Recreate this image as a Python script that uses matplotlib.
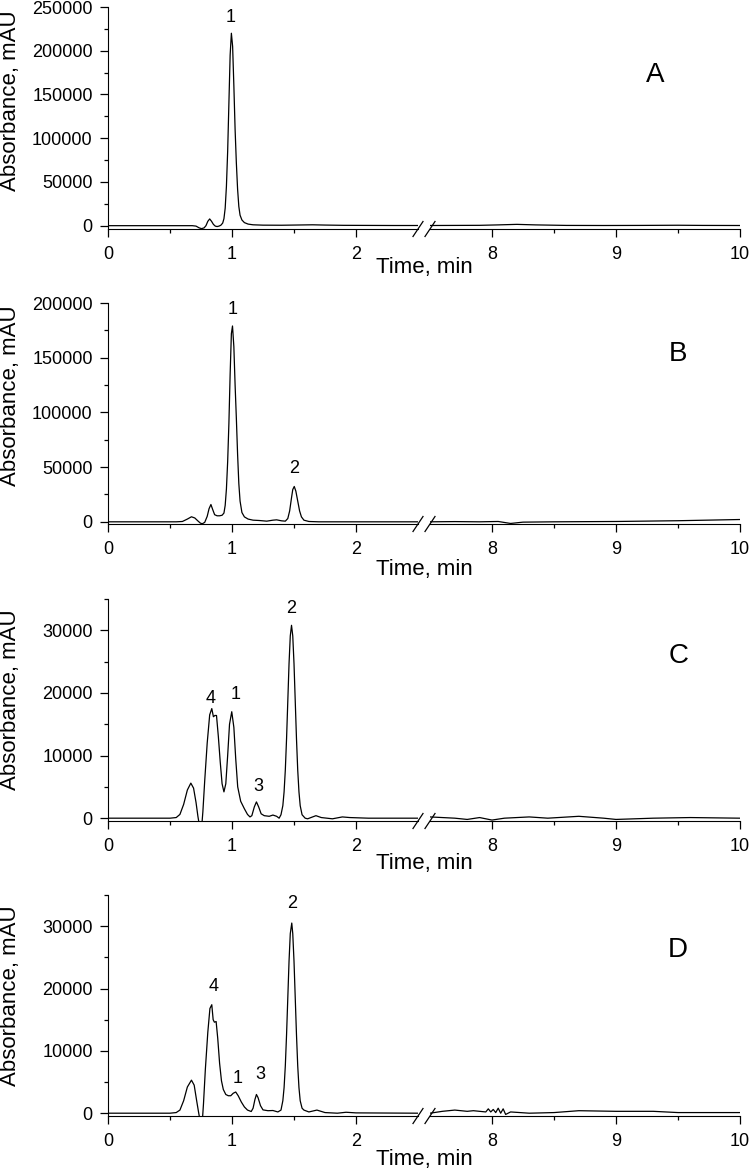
import matplotlib
matplotlib.use('Agg')
import matplotlib.pyplot as plt
from matplotlib.ticker import MultipleLocator, FixedLocator

plt.rcParams['font.family'] = ['Liberation Sans', 'DejaVu Sans']

# ---- data (time in min, absorbance in mAU) ----
a_t = [0.0, 0.6, 0.68, 0.71, 0.735, 0.755, 0.775, 0.79, 0.805, 0.82, 0.835, 0.85, 0.865,
       0.88, 0.895, 0.91, 0.925, 0.935, 0.945, 0.955, 0.965, 0.975, 0.985, 0.995, 1.005,
       1.015, 1.025, 1.035, 1.045, 1.055, 1.065, 1.08, 1.1, 1.13, 1.17, 1.25, 1.4, 1.55,
       1.65, 1.75, 1.9, 2.1, 2.3, 2.5]
a_y = [0, 0, 0, -500, -2500, -3400, -2500, 0, 5000, 7700, 5000, 1500, -500,
       -1000, -500, 500, 3000, 8000, 20000, 45000, 85000, 140000, 195000, 220000, 205000,
       160000, 110000, 72000, 42000, 22000, 12000, 6500, 3500, 1800, 1000, 600, 500, 800,
       1000, 700, 400, 300, 200, 200]
a_t2 = [7.5, 7.7, 7.9, 8.05, 8.2, 8.35, 8.6, 8.9, 9.2, 9.5, 9.7, 10.0]
a_y2 = [200, 300, 400, 900, 1500, 900, 300, 200, 300, 500, 300, 200]

b_t = [0.0, 0.55, 0.6, 0.64, 0.673, 0.7, 0.725, 0.745, 0.76, 0.78, 0.8, 0.815, 0.83,
       0.845, 0.86, 0.88, 0.9, 0.92, 0.935, 0.945, 0.955, 0.965, 0.975, 0.985, 0.995,
       1.004, 1.015, 1.025, 1.035, 1.045, 1.055, 1.065, 1.08, 1.1, 1.13, 1.17, 1.22, 1.28,
       1.33, 1.36, 1.4, 1.43, 1.45, 1.465, 1.48, 1.49, 1.502, 1.515, 1.53, 1.545, 1.56,
       1.58, 1.62, 1.7, 2.0, 2.5]
b_y = [0, 0, 300, 2500, 4600, 3500, 800, -1200, -1800, -500, 5000, 12000, 15800,
       11000, 6500, 5500, 5500, 6000, 8000, 15000, 30000, 55000, 90000, 135000, 172000,
       179000, 160000, 125000, 95000, 62000, 35000, 19000, 8500, 4500, 2500, 1500, 1200, 600,
       1500, 1800, 900, 600, 3000, 10000, 22000, 29500, 32300, 28000, 19000, 10000, 4500,
       1500, 300, 0, 0, 0]
b_t2 = [7.5, 7.7, 7.9, 8.05, 8.15, 8.25, 8.5, 9.0, 9.5, 10.0]
b_y2 = [0, 200, 0, 300, -1500, -300, 0, 300, 1000, 2100]

c_t = [0.0, 0.5, 0.55, 0.58, 0.61, 0.64, 0.668, 0.69, 0.71, 0.725, 0.74, 0.755, 0.765,
       0.78, 0.8, 0.82, 0.837, 0.85, 0.862, 0.875, 0.89, 0.905, 0.92, 0.935, 0.95, 0.965,
       0.98, 0.998, 1.015, 1.03, 1.046, 1.07, 1.1, 1.125, 1.145, 1.16, 1.18, 1.197, 1.215,
       1.235, 1.26, 1.3, 1.33, 1.36, 1.38, 1.395, 1.41, 1.42, 1.43, 1.44, 1.45, 1.46,
       1.47, 1.48, 1.49, 1.5, 1.51, 1.52, 1.53, 1.54, 1.55, 1.565, 1.59, 1.61, 1.65,
       1.677, 1.72, 1.81, 1.89, 1.95, 2.1, 2.5]
c_y = [0, 0, 100, 600, 2200, 4500, 5600, 4800, 2500, 300, -1500, -1500, 1000,
       6000, 12000, 16500, 17500, 16200, 16400, 16400, 13000, 9000, 5500, 4200, 5500, 10000,
       15000, 17000, 14500, 9500, 5000, 2700, 1500, 600, 200, 400, 1800, 2600, 1800,
       700, 400, 300, 500, 300, 0, 550, 2000, 4200, 7700, 12700, 18700, 24700,
       29100, 30800, 29100, 24700, 18700, 12700, 7700, 4200, 2000, 550, 0, -100, 200,
       400, 100, -100, 200, 100, 0, 0]
c_t2 = [7.5, 7.7, 7.8, 7.9, 8.0, 8.1, 8.3, 8.45, 8.7, 8.9, 9.0, 9.3, 9.6, 10.0]
c_y2 = [200, 0, -200, 100, -300, 0, 200, 0, 300, 0, -200, 0, 100, 0]

d_t = [0.0, 0.5, 0.55, 0.58, 0.61, 0.64, 0.673, 0.695, 0.715, 0.73, 0.745, 0.76, 0.77,
       0.785, 0.805, 0.822, 0.837, 0.848, 0.858, 0.872, 0.885, 0.9, 0.915, 0.93, 0.95,
       0.97, 0.99, 1.01, 1.03, 1.05, 1.075, 1.1, 1.125, 1.155, 1.17, 1.185, 1.197, 1.21,
       1.23, 1.25, 1.29, 1.33, 1.37, 1.395, 1.41, 1.42, 1.43, 1.44, 1.45, 1.46, 1.47,
       1.482, 1.49, 1.5, 1.51, 1.52, 1.53, 1.54, 1.55, 1.565, 1.58, 1.62, 1.685, 1.75,
       1.85, 1.92, 2.0, 2.5]
d_y = [0, 0, 100, 500, 2000, 4200, 5300, 4500, 2000, 200, -1500, -1500, 1500,
       7000, 13000, 16800, 17400, 15000, 14600, 14700, 12000, 8000, 5200, 3800, 3000,
       2800, 2800, 3200, 3400, 2800, 1800, 1000, 500, 270, 800, 2200, 3000, 2500,
       1200, 530, 400, 430, 200, 500, 2000, 4100, 7600, 12600, 18500, 24400, 28800,
       30500, 28800, 24400, 18500, 12600, 7600, 4100, 2000, 800, 500, 200, 500, 100,
       0, 150, 50, 0]
d_t2 = [7.5, 7.6, 7.7, 7.8, 7.85, 7.95, 7.97, 7.99, 8.01, 8.03, 8.05, 8.07, 8.09, 8.11,
        8.15, 8.3, 8.5, 8.7, 9.0, 9.3, 9.5, 10.0]
d_y2 = [0, 300, 500, 300, 400, 200, 700, 200, 600, 100, 800, 0, 700, -200,
        200, 0, 100, 400, 300, 300, 100, 100]

# peak numbers (text, time, absorbance)
a_peaks = [('1', 0.99, 238500)]
b_peaks = [('1', 1.008, 193800), ('2', 1.502, 48700)]
c_peaks = [('4', 0.831, 19150), ('1', 1.027, 19700), ('3', 1.209, 5050), ('2', 1.48, 33500)]
d_peaks = [('4', 0.855, 20400), ('1', 1.048, 5500), ('3', 1.231, 6150), ('2', 1.486, 33700)]

W, H = 750, 1172
fig = plt.figure(figsize=(W / 100, H / 100), dpi=100)


def panel(top, bot, t1, y1, t2, y2, peaks, letter, let_xy, ylim, ymaj, ymin, ylab_y, xlab_y):
    h = (bot - top) / H
    axL = fig.add_axes([108 / W, 1 - bot / H, 310 / W, h])
    axR = fig.add_axes([430 / W, 1 - bot / H, 310 / W, h])
    axL.plot(t1, y1, color='k', lw=0.9)
    axR.plot(t2, y2, color='k', lw=0.9)
    axL.set_xlim(0, 2.5)
    axR.set_xlim(7.5, 10)
    for ax in (axL, axR):
        ax.set_ylim(*ylim)
        ax.spines['top'].set_visible(False)
        ax.spines['right'].set_visible(False)
        ax.tick_params(axis='x', which='major', direction='out', length=6, width=0.9,
                       labelsize=13, pad=6)
        ax.tick_params(axis='x', which='minor', direction='out', length=3, width=0.9)
    axR.spines['left'].set_visible(False)
    axR.tick_params(axis='y', which='both', left=False, labelleft=False)
    axL.tick_params(axis='y', which='major', direction='out', length=6, width=0.9,
                    labelsize=13, pad=5)
    axL.tick_params(axis='y', which='minor', direction='out', length=3, width=0.9)
    axL.xaxis.set_major_locator(FixedLocator([0, 1, 2]))
    axL.xaxis.set_minor_locator(FixedLocator([0.5, 1.5]))
    axR.xaxis.set_major_locator(FixedLocator([8, 9, 10]))
    axR.xaxis.set_minor_locator(FixedLocator([8.5, 9.5]))
    axL.yaxis.set_major_locator(MultipleLocator(ymaj))
    axL.yaxis.set_minor_locator(MultipleLocator(ymin))
    # axis break marks
    dx, dy = 5 / 310, 7.5 / (bot - top)
    axL.plot([1 - dx, 1 + dx], [-dy, dy], transform=axL.transAxes, color='k', lw=0.9,
             clip_on=False)
    axR.plot([-dx, dx], [-dy, dy], transform=axR.transAxes, color='k', lw=0.9,
             clip_on=False)
    for txt, x, y in peaks:
        axL.text(x, y, txt, ha='center', va='center', fontsize=13)
    axR.text(let_xy[0], let_xy[1], letter, transform=axR.transAxes, ha='center',
             va='center', fontsize=20)
    fig.text(11 / W, 1 - ylab_y / H, 'Absorbance, mAU', rotation=90, ha='center',
             va='center', fontsize=16)
    fig.text(424 / W, 1 - xlab_y / H, 'Time, min', ha='center', va='center', fontsize=16)


panel(7, 229, a_t, a_y, a_t2, a_y2, a_peaks, 'A', (0.726, 0.694),
      (-3800, 250000), 50000, 25000, 101, 268)
panel(303, 524, b_t, b_y, b_t2, b_y2, b_peaks, 'B', (0.80, 0.769),
      (-2000, 200000), 50000, 25000, 396, 570)
panel(599, 821, c_t, c_y, c_t2, c_y2, c_peaks, 'C', (0.803, 0.743),
      (-450, 35000), 10000, 5000, 700, 863)
panel(895, 1116, d_t, d_y, d_t2, d_y2, d_peaks, 'D', (0.80, 0.751),
      (-450, 35000), 10000, 5000, 996, 1160)

fig.savefig('out.png', dpi=100)
